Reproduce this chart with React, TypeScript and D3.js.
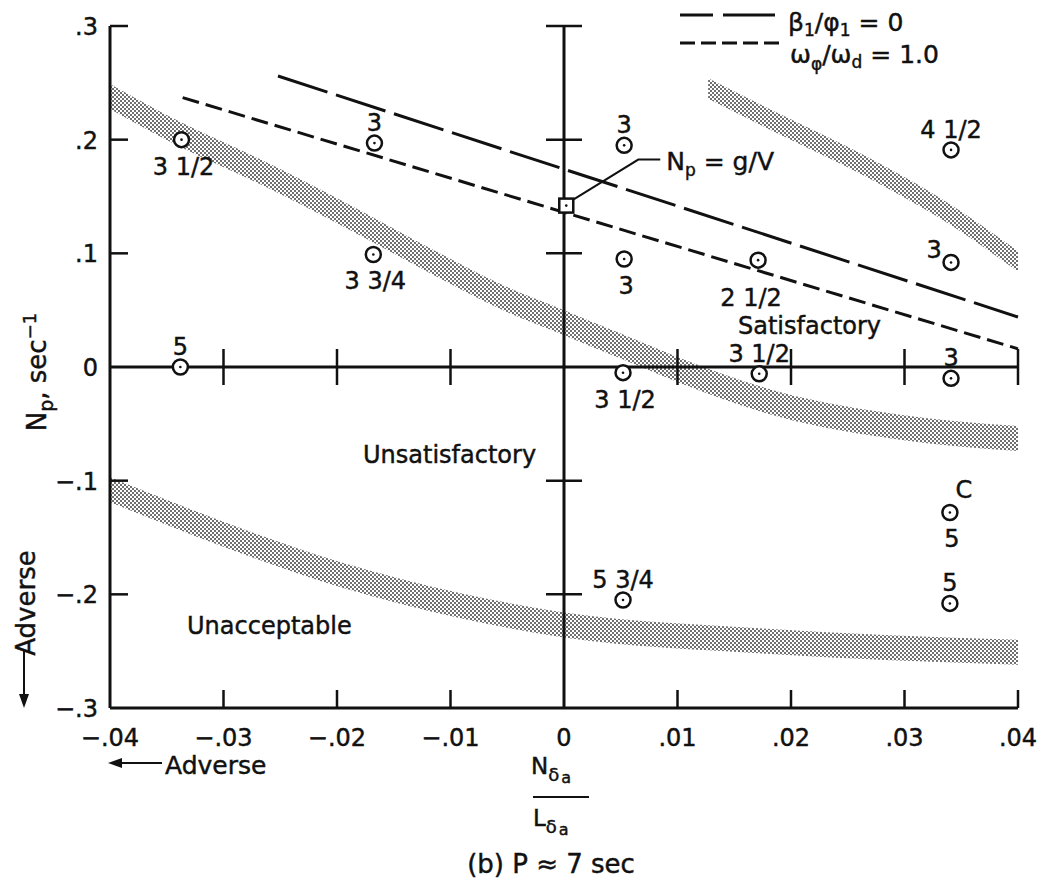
import React from "react";
import * as d3 from "d3";

const width = 1039;
const height = 879;

// axis ticks
const xTicks = [-0.04, -0.03, -0.02, -0.01, 0, 0.01, 0.02, 0.03, 0.04];
const xTickLabels = ["−.04", "−.03", "−.02", "−.01", "0", ".01", ".02", ".03", ".04"];
const yTicks = [0.3, 0.2, 0.1, 0, -0.1, -0.2, -0.3];
const yTickLabels = [".3", ".2", ".1", "0", "−.1", "−.2", "−.3"];

// pilot rating points (N_delta_a / L_delta_a, Np)
const ptX = [-0.0337, -0.0167, -0.0168, -0.0338, 0.0053, 0.0053, 0.0171, 0.0341, 0.0341, 0.0052, 0.0172, 0.0341, 0.0052, 0.034, 0.034];
const ptY = [0.2, 0.197, 0.099, 0.0, 0.195, 0.095, 0.094, 0.191, 0.092, -0.005, -0.006, -0.01, -0.205, -0.128, -0.208];
const ptRating = ["3 1/2", "3", "3 3/4", "5", "3", "3", "2 1/2", "4 1/2", "3", "3 1/2", "3 1/2", "3", "5 3/4", "5", "5"];
const ptLabelSide = ["below", "above", "below", "above", "above", "below", "belowLeft", "above", "left", "below", "above", "above", "above", "below", "above"];
const ptNote = ["", "", "", "", "", "", "", "", "", "", "", "", "", "C", ""];

// Np = g/V point
const gvX = 0.0002;
const gvY = 0.142;

// boundary lines
const betaLineX = [-0.0252, 0.04];
const betaLineY = [0.256, 0.044];
const omegaLineX = [-0.0336, 0.04];
const omegaLineY = [0.237, 0.016];

// shaded boundary bands (centre line)
const bandAX = [-0.04, -0.0337, -0.0268, -0.018, -0.0115, -0.0056, 0, 0.0051, 0.0102, 0.019, 0.0296, 0.04];
const bandAY = [0.238, 0.204, 0.172, 0.127, 0.092, 0.062, 0.039, 0.018, -0.003, -0.033, -0.053, -0.063];
const bandBX = [0.0127, 0.0181, 0.0267, 0.0331, 0.04];
const bandBY = [0.245, 0.218, 0.176, 0.14, 0.093];
const bandCX = [-0.04, -0.0303, -0.0196, -0.0091, 0, 0.0175, 0.04];
const bandCY = [-0.108, -0.146, -0.183, -0.21, -0.227, -0.241, -0.251];

const font = "DejaVu Sans";
const ink = "#111";

export default function App() {
  const x = d3.scaleLinear().domain([-0.04, 0.04]).range([110, 1018]);
  const y = d3.scaleLinear().domain([-0.3, 0.3]).range([708, 26]);
  const x0 = x(0);
  const y0 = y(0);
  const tick = 18;

  const band = (xs: number[], ys: number[], half: number) =>
    d3
      .area<number>()
      .x((i) => x(xs[i]))
      .y0((i) => y(ys[i] - half))
      .y1((i) => y(ys[i] + half))
      .curve(d3.curveMonotoneX)(d3.range(xs.length)) as string;

  const line = (xs: number[], ys: number[]) =>
    d3
      .line<number>()
      .x((i) => x(xs[i]))
      .y((i) => y(ys[i]))(d3.range(xs.length)) as string;

  const labelPos = (side: string) => {
    if (side === "above") return [0, -12];
    if (side === "below") return [2, 35];
    if (side === "belowLeft") return [-7, 46];
    return [-17, -4];
  };

  const innerTicks = xTicks.filter((t) => t !== 0 && t !== -0.04);
  const yInner = yTicks.filter((t) => t !== 0 && t !== -0.3);

  const gx = x(gvX);
  const gy = y(gvY);

  const textStroke = { stroke: ink, strokeWidth: 0.45 };

  return (
    <svg width={width} height={height} style={{ display: "block", position: "absolute", left: 0, top: 0, background: "#fff" }}>
      <defs>
        <pattern id="stipple" width={4} height={4} patternUnits="userSpaceOnUse">
          <rect width={4} height={4} fill="#fff" />
          <circle cx={1} cy={1} r={0.95} fill="#333" />
          <circle cx={3} cy={3} r={0.95} fill="#333" />
        </pattern>
      </defs>
      <rect width={width} height={height} fill="#fff" />

      {/* shaded bands */}
      <path d={band(bandAX, bandAY, 0.011)} fill="url(#stipple)" />
      <path d={band(bandBX, bandBY, 0.009)} fill="url(#stipple)" />
      <path d={band(bandCX, bandCY, 0.011)} fill="url(#stipple)" />

      {/* frame and axes */}
      <g stroke={ink} strokeWidth={3} fill="none">
        <line x1={x(-0.04)} x2={x(-0.04)} y1={y(0.3)} y2={y(-0.3)} />
        <line x1={x(-0.04)} x2={x(0.04)} y1={y(-0.3)} y2={y(-0.3)} />
        <line x1={x(-0.04)} x2={x(0.04)} y1={y0} y2={y0} />
        <line x1={x0} x2={x0} y1={y(0.3)} y2={y(-0.3)} />
      </g>
      <g stroke={ink} strokeWidth={2.5}>
        {yInner.map((t) => (
          <line key={"l" + t} x1={x(-0.04)} x2={x(-0.04) + tick} y1={y(t)} y2={y(t)} />
        ))}
        {yInner.map((t) => (
          <line key={"c" + t} x1={x0 - tick} x2={x0 + tick} y1={y(t)} y2={y(t)} />
        ))}
        {innerTicks.map((t) => (
          <line key={"z" + t} x1={x(t)} x2={x(t)} y1={y0 - tick} y2={y0 + tick} />
        ))}
        {innerTicks.map((t) => (
          <line key={"b" + t} x1={x(t)} x2={x(t)} y1={y(-0.3)} y2={y(-0.3) - tick} />
        ))}
      </g>

      {/* tick labels */}
      <g fontFamily={font} fontSize={24} fill={ink} {...textStroke}>
        {xTicks.map((t, i) => (
          <text key={t} x={x(t)} y={746} textAnchor="middle">
            {xTickLabels[i]}
          </text>
        ))}
        {yTicks.map((t, i) => (
          <text key={t} x={98} y={y(t) + 9} textAnchor="end">
            {yTickLabels[i]}
          </text>
        ))}
      </g>

      {/* boundary lines */}
      <path d={line(betaLineX, betaLineY)} stroke={ink} strokeWidth={3} fill="none" strokeDasharray="52 9" />
      <path d={line(omegaLineX, omegaLineY)} stroke={ink} strokeWidth={3} fill="none" strokeDasharray="17 7" />

      {/* Np = g/V */}
      <polyline
        points={`${gx + 7},${gy - 6} ${gx + 72},${gy - 46} ${gx + 94},${gy - 46}`}
        stroke={ink}
        strokeWidth={2}
        fill="none"
      />
      <rect x={gx - 7} y={gy - 7} width={14} height={14} fill="#fff" stroke={ink} strokeWidth={2.5} />
      <circle cx={gx} cy={gy} r={1.3} fill={ink} />
      <text x={gx + 100} y={gy - 36} fontFamily={font} fontSize={25} fill={ink} {...textStroke}>
        N<tspan fontSize={17} dy={6}>p</tspan>
        <tspan dy={-6}> = g/V</tspan>
      </text>

      {/* rating points */}
      {ptX.map((v, i) => {
        const cx = x(v);
        const cy = y(ptY[i]);
        const [dx, dy] = labelPos(ptLabelSide[i]);
        return (
          <g key={i}>
            <circle cx={cx} cy={cy} r={7.5} fill="#fff" stroke={ink} strokeWidth={2.5} />
            <circle cx={cx} cy={cy} r={1.3} fill={ink} />
            <text x={cx + dx} y={cy + dy} textAnchor="middle" fontFamily={font} fontSize={24} fill={ink} {...textStroke}>
              {ptRating[i]}
            </text>
            {ptNote[i] && (
              <text x={cx + 14} y={cy - 14} textAnchor="middle" fontFamily={font} fontSize={24} fill={ink} {...textStroke}>
                {ptNote[i]}
              </text>
            )}
          </g>
        );
      })}

      {/* region labels */}
      <g fontFamily={font} fontSize={24} fill={ink} {...textStroke}>
        <text x={738} y={334}>Satisfactory</text>
        <text x={363} y={463}>Unsatisfactory</text>
        <text x={187} y={634}>Unacceptable</text>
      </g>

      {/* legend */}
      <line x1={680} x2={778} y1={15} y2={15} stroke={ink} strokeWidth={3} strokeDasharray="52 10" strokeDashoffset={19} />
      <line x1={680} x2={780} y1={43} y2={43} stroke={ink} strokeWidth={3} strokeDasharray="15 6" />
      <g fontFamily={font} fontSize={25} fill={ink} {...textStroke}>
        <text x={788} y={31}>
          β<tspan fontSize={17} dy={5}>1</tspan>
          <tspan dy={-5}>/φ</tspan>
          <tspan fontSize={17} dy={5}>1</tspan>
          <tspan dy={-5}> = 0</tspan>
        </text>
        <text x={790} y={63}>
          ω<tspan fontSize={17} dy={7}>φ</tspan>
          <tspan dy={-7}>/ω</tspan>
          <tspan fontSize={17} dy={5}>d</tspan>
          <tspan dy={-5}> = 1.0</tspan>
        </text>
      </g>

      {/* x axis title */}
      <g fontFamily={font} fontSize={23} fill={ink} {...textStroke}>
        <text x={x0 - 33} y={774}>
          N<tspan fontSize={18} dy={7}>δ</tspan>
          <tspan fontSize={16} dx={2} dy={2}>a</tspan>
        </text>
        <line x1={x0 - 31} x2={x0 + 25} y1={797} y2={797} stroke={ink} strokeWidth={2} />
        <text x={x0 - 31} y={826}>
          L<tspan fontSize={18} dy={7}>δ</tspan>
          <tspan fontSize={16} dx={2} dy={2}>a</tspan>
        </text>
      </g>
      <text x={551} y={873} textAnchor="middle" fontFamily={font} fontSize={26} fill={ink} {...textStroke}>
        (b) P ≈ 7 sec
      </text>
      <text x={165} y={774} fontFamily={font} fontSize={25} fill={ink} {...textStroke}>
        Adverse
      </text>
      <line x1={162} x2={112} y1={763} y2={763} stroke={ink} strokeWidth={2} />
      <path d="M108,763 L122,758 L122,768 Z" fill={ink} />

      {/* y axis title */}
      <g fontFamily={font} fontSize={26} fill={ink} {...textStroke}>
        <text transform="translate(46,372) rotate(-90)" textAnchor="middle">
          N<tspan fontSize={19} dy={7}>p</tspan>
          <tspan dy={-7}>, sec</tspan>
          <tspan fontSize={18} dy={-10}>−1</tspan>
        </text>
        <text transform="translate(35,603) rotate(-90)" textAnchor="middle">
          Adverse
        </text>
      </g>
      <line x1={24} x2={24} y1={650} y2={700} stroke={ink} strokeWidth={2} />
      <path d="M24,708 L19,694 L29,694 Z" fill={ink} />
    </svg>
  );
}
